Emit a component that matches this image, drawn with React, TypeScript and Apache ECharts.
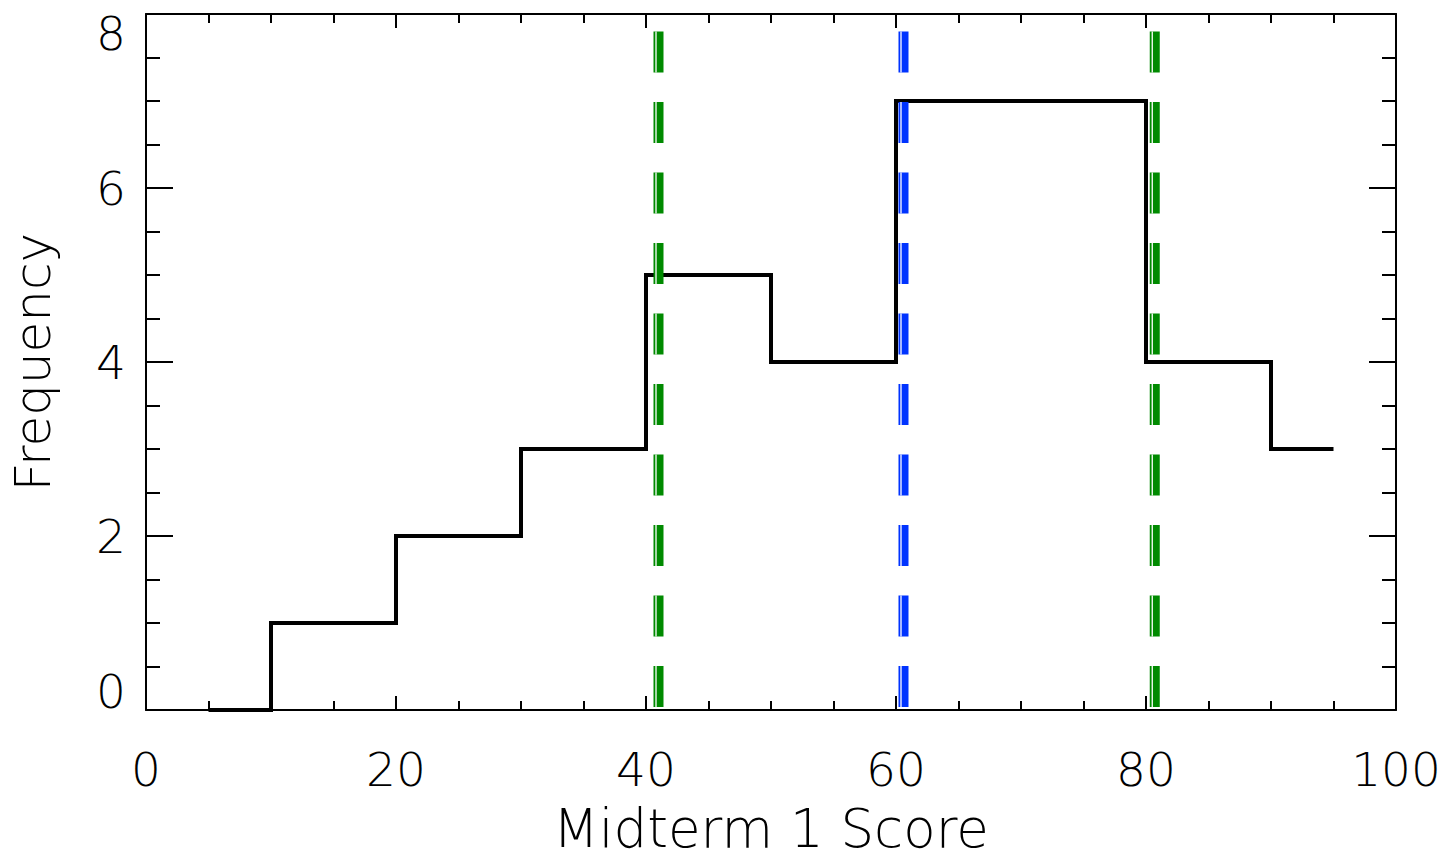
import React, { useEffect, useRef } from "react";
import * as echarts from "echarts";

// Histogram bin centres and counts (drawn as a stepped line)
const binCenters: number[] = [5, 15, 25, 35, 45, 55, 65, 75, 85, 95];
const binCounts: number[] = [0, 1, 2, 3, 5, 4, 7, 7, 4, 3];

// Vertical reference lines (mean and mean ± 1 sigma)
const refValues: number[] = [41.0, 60.6, 80.7];
const refColors: string[] = ["#008a00", "#0033ff", "#008a00"];

const xTitle = "Midterm 1 Score";
const yTitle = "Frequency";

const FONT = "'DejaVu Sans', 'Liberation Sans', sans-serif";

export default function App() {
  const ref = useRef<HTMLDivElement>(null);

  useEffect(() => {
    if (!ref.current) return;
    const chart = echarts.init(ref.current, undefined, { renderer: "svg" });

    const axisLine = { show: true, onZero: false, lineStyle: { color: "#000", width: 2 } };

    const xBase = {
      type: "value" as const,
      min: 0,
      max: 100,
      interval: 20,
      axisLine,
      splitLine: { show: false },
      axisTick: { show: true, inside: true, length: 14, lineStyle: { color: "#000", width: 2 } },
      minorTick: { show: true, splitNumber: 4, length: 9, lineStyle: { color: "#000", width: 2 } },
    };
    const yBase = {
      type: "value" as const,
      min: 0,
      max: 8,
      interval: 2,
      axisLine,
      splitLine: { show: false },
      axisTick: { show: true, inside: true, length: 27, lineStyle: { color: "#000", width: 2 } },
      minorTick: { show: true, splitNumber: 4, length: 14, lineStyle: { color: "#000", width: 2 } },
    };

    const stepData = binCenters.map((x, i) => [x, binCounts[i]]);
    const refData = refValues.map((v, i) => [v, 0, i]);

    chart.setOption({
      animation: false,
      backgroundColor: "#ffffff",
      grid: { left: 145, right: 52, top: 14, bottom: 152, containLabel: false },
      xAxis: [
        {
          ...xBase,
          position: "bottom",
          name: xTitle,
          nameLocation: "middle",
          nameGap: 92,
          nameTextStyle: { fontFamily: FONT, fontSize: 53, fontWeight: 200, color: "#000" },
          axisLabel: {
            show: true,
            margin: 36,
            fontFamily: FONT,
            fontSize: 47,
            fontWeight: 200,
            color: "#000",
          },
        },
        {
          ...xBase,
          position: "top",
          axisLabel: { show: false },
        },
      ],
      yAxis: [
        {
          ...yBase,
          position: "left",
          name: yTitle,
          nameLocation: "middle",
          nameGap: 88,
          nameTextStyle: { fontFamily: FONT, fontSize: 50, fontWeight: 200, color: "#000" },
          axisLabel: {
            show: true,
            margin: 20,
            fontFamily: FONT,
            fontSize: 47,
            fontWeight: 200,
            lineHeight: 38,
            color: "#000",
            verticalAlignMinLabel: "bottom",
            verticalAlignMaxLabel: "top",
          },
        },
        {
          ...yBase,
          position: "right",
          axisLabel: { show: false },
        },
      ],
      series: [
        {
          type: "line",
          xAxisIndex: 0,
          yAxisIndex: 0,
          step: "middle",
          data: stepData,
          symbol: "none",
          lineStyle: { color: "#000", width: 4, cap: "butt", join: "miter" },
          z: 3,
        },
        {
          type: "custom",
          xAxisIndex: 0,
          yAxisIndex: 0,
          data: refData,
          encode: { x: 0, y: 1 },
          z: 4,
          clip: false,
          renderItem: (params: any, api: any) => {
            const v = api.value(0);
            const idx = api.value(2);
            const p0 = api.coord([v, 0]);
            const p1 = api.coord([v, 8]);
            const color = refColors[idx];
            const dash = [41, 29.5];
            return {
              type: "group",
              children: [
                {
                  type: "line",
                  shape: { x1: p0[0], y1: p0[1] - 3, x2: p1[0], y2: p1[1] },
                  style: { stroke: color, lineWidth: 10, lineDash: dash, fill: null },
                },
                {
                  type: "line",
                  shape: { x1: p0[0] - 2.5, y1: p0[1] - 3, x2: p1[0] - 2.5, y2: p1[1] },
                  style: { stroke: "#ffffff", lineWidth: 1.3, lineDash: dash, fill: null },
                },
              ],
            };
          },
        },
      ],
    });

    return () => chart.dispose();
  }, []);

  return (
    <div
      ref={ref}
      style={{ position: "absolute", left: 0, top: 0, width: 1448, height: 862, background: "#fff" }}
    />
  );
}
